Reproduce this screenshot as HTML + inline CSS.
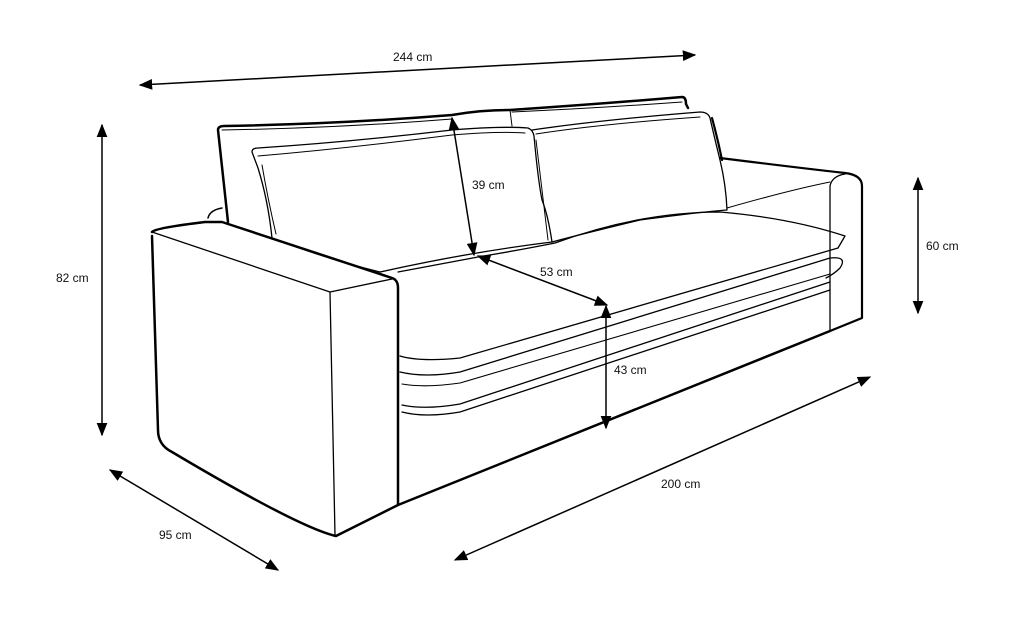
<!DOCTYPE html>
<html><head><meta charset="utf-8"><style>
html,body{margin:0;padding:0;background:#fff;width:1024px;height:627px;overflow:hidden}
svg{display:block}
text{font-family:"Liberation Sans",sans-serif;font-size:12px;fill:#111}
</style></head><body>
<svg width="1024" height="627" viewBox="0 0 1024 627" xmlns="http://www.w3.org/2000/svg">
<defs>
<marker id="a" viewBox="0 0 10 10" refX="9" refY="5" markerWidth="9" markerHeight="9" orient="auto-start-reverse"><path d="M0,1 L10,5 L0,9 z" fill="#000"/></marker>
</defs>
<g fill="none" stroke="#000" stroke-linejoin="round" stroke-linecap="round">
<!-- rear back cushion outline -->
<path d="M228,222 L218,130 Q218,126 224,126 Q340,124 452,115 Q480,110 510,110 Q600,104 682,97 Q686,97 686,104 L688,108" stroke-width="2.5"/>
<path d="M222,130 Q340,128 452,119 M512,112 Q600,108 682,102 M510,110 L512,126" stroke-width="1"/>
<path d="M208,218 Q210,210 222,208" stroke-width="1.5"/>
<!-- left front cushion -->
<path d="M252,152 Q252,148 258,148 Q350,142 452,130 Q500,126 528,128 Q533,130 534,136 Q538,180 542,200 Q548,215 552,242 Q470,252 380,272 Q330,260 272,238 Q268,200 258,168 Z" stroke-width="1.3"/>
<path d="M258,156 Q350,148 452,135 Q500,131 525,133 M262,165 Q268,200 276,234 M536,140 Q543,200 548,240" stroke-width="1"/>
<!-- right front cushion -->
<path d="M532,130 Q600,120 700,112 Q708,112 710,118 Q715,140 720,160 Q726,185 727,210 Q700,212 640,220 Q590,232 552,242" stroke-width="1.3"/>
<path d="M536,134 Q600,124 700,117" stroke-width="1"/>
<path d="M712,118 Q718,140 722,160" stroke-width="2.2"/>
<!-- right arm -->
<path d="M720,158 Q800,168 845,173 Q862,175 862,186 L862,318 L830,331" stroke-width="2.2"/>
<path d="M845,174 Q832,176 830,186 L830,331" stroke-width="1.3"/>
<path d="M727,208 Q790,190 830,182" stroke-width="1"/>
<!-- seat cushion -->
<path d="M398,272 L478,257 Q520,250 555,243 Q640,212 720,212 Q790,218 845,236 L838,248" stroke-width="1.3"/>
<path d="M400,356 Q420,362 460,358 L838,248" stroke-width="1.3"/>
<path d="M400,372 Q425,378 460,372 L830,258 Q848,256 840,268 Q834,274 826,278" stroke-width="1.3"/>
<path d="M402,384 Q425,388 460,383 L830,274" stroke-width="1.1"/>
<path d="M402,405 Q425,410 460,404 L830,282" stroke-width="1.3"/>
<path d="M402,412 Q425,418 460,412 L830,290" stroke-width="1.3"/>
<!-- base bottom -->
<path d="M398,505 L830,331" stroke-width="2.5"/>
<!-- left arm -->
<path d="M152,232 Q155,228 205,222 L222,222 L392,278 Q398,280 398,288 L398,505 L336,536 Q300,528 172,452 Q158,445 158,430 L152,236" stroke-width="2.5"/>
<path d="M152,232 L330,292 L392,279 M330,292 L335,535" stroke-width="1.3"/>
</g>
<!-- dimension arrows -->
<g stroke="#000" stroke-width="1.5" fill="none" marker-start="url(#a)" marker-end="url(#a)">
<line x1="140" y1="85" x2="695" y2="55"/>
<line x1="102" y1="125" x2="102" y2="435"/>
<line x1="110" y1="470" x2="278" y2="570"/>
<line x1="455" y1="560" x2="870" y2="377"/>
<line x1="918" y1="178" x2="918" y2="313"/>
<line x1="606" y1="306" x2="606" y2="428"/>
<line x1="478" y1="256" x2="607" y2="305"/>
<line x1="452" y1="118" x2="474" y2="255"/>
</g>
<text x="393" y="61">244 cm</text>
<text x="56" y="282">82 cm</text>
<text x="159" y="539">95 cm</text>
<text x="661" y="488">200 cm</text>
<text x="926" y="250">60 cm</text>
<text x="614" y="374">43 cm</text>
<text x="540" y="276">53 cm</text>
<text x="472" y="189">39 cm</text>
</svg>
</body></html>
